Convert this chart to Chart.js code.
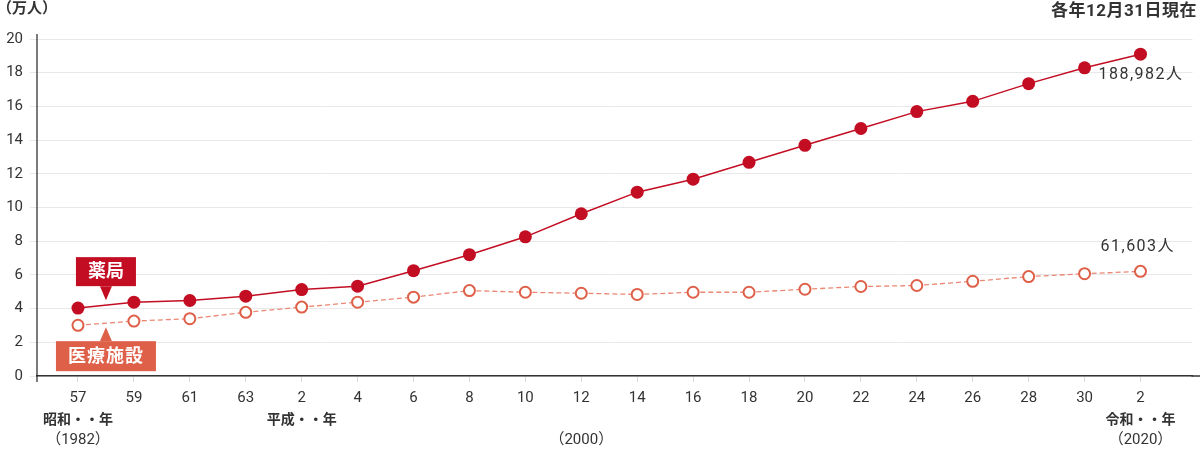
<!DOCTYPE html>
<html>
<head>
<meta charset="utf-8">
<script src="https://cdn.jsdelivr.net/npm/chart.js@4/dist/chart.umd.min.js"></script>
<style>
html,body{margin:0;padding:0;background:#fff;}
#wrap{width:1200px;height:451px;}
</style>
</head>
<body>
<div id="wrap"><canvas id="c" width="1200" height="451"></canvas></div>
<script>
const years = ['57','59','61','63','2','4','6','8','10','12','14','16','18','20','22','24','26','28','30','2'];
const pharmacy = [4.03,4.38,4.48,4.74,5.13,5.33,6.25,7.2,8.26,9.63,10.91,11.68,12.68,13.69,14.69,15.69,16.3,17.35,18.29,19.1];
const facility = [3.01,3.26,3.4,3.78,4.09,4.38,4.68,5.07,4.97,4.91,4.84,4.97,4.97,5.15,5.31,5.37,5.62,5.9,6.07,6.21];
const eraNames = ['昭和・・年','平成・・年','令和・・年'];
const eraIndex = [0,4,19];
const yearNotes = ['（1982）','（2000）','（2020）'];
const yearNoteIndex = [0,9,19];
const seriesNames = ['薬局','医療施設'];
const endLabels = ['188,982人','61,603人'];
const yTicks = [0,2,4,6,8,10,12,14,16,18,20];

const RED = '#c30d23';
const ORANGE = '#de6048';
const JP = '"Roboto","Noto Sans CJK JP",sans-serif';

function pts(arr){ return arr.map((v,i)=>({x:i,y:v})); }

const overlay = {
  id:'overlay',
  afterDraw(chart){
    const ctx = chart.ctx;
    const xs = chart.scales.x, ys = chart.scales.y;
    const ca = chart.chartArea;
    ctx.save();
    ctx.strokeStyle = '#222';
    ctx.lineWidth = 1.2;
    ctx.beginPath();
    ctx.moveTo(ca.left, ca.top - 5);
    ctx.lineTo(ca.left, ca.bottom + 6);
    ctx.stroke();
    ctx.strokeStyle = '#333';
    ctx.lineWidth = 1.5;
    ctx.beginPath();
    ctx.moveTo(ca.right - 1, ca.bottom);
    ctx.lineTo(1200, ca.bottom);
    ctx.stroke();

    ctx.fillStyle = '#333';
    ctx.font = 'bold 15px ' + JP;
    ctx.textAlign = 'left'; ctx.textBaseline = 'middle';
    ctx.fillText('（万人）', -3, 9);
    ctx.font = 'bold 17px ' + JP;
    ctx.textAlign = 'right';
    if (ctx.letterSpacing !== undefined) ctx.letterSpacing = '0.5px';
    ctx.fillText('各年12月31日現在', 1197, 12);
    if (ctx.letterSpacing !== undefined) ctx.letterSpacing = '0px';

    ctx.textAlign = 'center';
    ctx.font = 'bold 14px ' + JP;
    eraNames.forEach((t,k)=>{
      ctx.fillText(t, xs.getPixelForValue(eraIndex[k]), 420);
    });
    ctx.font = '15px ' + JP;
    yearNotes.forEach((t,k)=>{
      ctx.fillText(t, xs.getPixelForValue(yearNoteIndex[k]), 440);
    });

    const last = years.length - 1;
    ctx.font = '16px ' + JP;
    ctx.textAlign = 'left';
    if (ctx.letterSpacing !== undefined) ctx.letterSpacing = '1.5px';
    ctx.fillText(endLabels[0], xs.getPixelForValue(last) - 42, ys.getPixelForValue(pharmacy[last]) + 21);
    ctx.fillText(endLabels[1], xs.getPixelForValue(last) - 40, ys.getPixelForValue(facility[last]) - 24);
    if (ctx.letterSpacing !== undefined) ctx.letterSpacing = '0px';

    const xm = xs.getPixelForValue(0.5);
    const yRed = ys.getPixelForValue((pharmacy[0]+pharmacy[1])/2);
    const yOr = ys.getPixelForValue((facility[0]+facility[1])/2);
    ctx.font = 'bold 18px ' + JP;
    ctx.textAlign = 'center';
    let tip = yRed - 5;
    let bBot = tip - 14, bTop = bBot - 29;
    ctx.fillStyle = RED;
    ctx.fillRect(xm - 30, bTop, 60, 29);
    ctx.beginPath();
    ctx.moveTo(xm - 6, bBot); ctx.lineTo(xm + 6, bBot); ctx.lineTo(xm, tip); ctx.closePath(); ctx.fill();
    ctx.fillStyle = '#fff';
    ctx.fillText(seriesNames[0], xm, bTop + 15);
    tip = yOr + 4;
    let bT = tip + 14;
    ctx.fillStyle = ORANGE;
    ctx.fillRect(xm - 50, bT, 100, 30);
    ctx.beginPath();
    ctx.moveTo(xm - 6, bT); ctx.lineTo(xm + 6, bT); ctx.lineTo(xm, tip); ctx.closePath(); ctx.fill();
    ctx.fillStyle = '#fff';
    if (ctx.letterSpacing !== undefined) ctx.letterSpacing = '1px';
    ctx.fillText(seriesNames[1], xm, bT + 16);
    ctx.restore();
  }
};

new Chart(document.getElementById('c'), {
  type:'line',
  data:{
    datasets:[
      {
        label:seriesNames[0],
        data:pts(pharmacy),
        borderColor:RED,
        backgroundColor:RED,
        borderWidth:1.5,
        pointRadius:6.5,
        pointBorderWidth:0,
        pointBackgroundColor:RED,
        tension:0
      },
      {
        label:seriesNames[1],
        data:pts(facility),
        borderColor:'#eb8873',
        borderWidth:1.3,
        borderDash:[5,3],
        pointRadius:5.5,
        pointBorderWidth:2,
        pointBorderColor:ORANGE,
        pointBackgroundColor:'#fff',
        tension:0
      }
    ]
  },
  options:{
    responsive:false,
    animation:false,
    events:[],
    layout:{padding:{top:39,right:0,left:0,bottom:0}},
    plugins:{legend:{display:false},tooltip:{enabled:false}},
    scales:{
      x:{
        type:'linear',
        min:-0.733,
        max:19.93,
        afterBuildTicks(scale){ scale.ticks = years.map((_,i)=>({value:i})); },
        afterFit(scale){ scale.height = 75; },
        ticks:{
          autoSkip:false,
          maxRotation:0,
          color:'#333',
          padding:7,
          font:{size:15,family:JP},
          callback:(v)=>years[v]
        },
        grid:{drawOnChartArea:false,drawTicks:true,tickLength:6,color:'#d8d8d8'},
        border:{display:true,color:'#333',width:1.5}
      },
      y:{
        min:0,max:20,
        afterBuildTicks(scale){ scale.ticks = yTicks.map(v=>({value:v})); },
        afterFit(scale){ scale.width = 37; },
        ticks:{color:'#333',padding:7,font:{size:15,family:JP}},
        grid:{color:'#e8e8e8',lineWidth:1,tickLength:7},
        border:{display:false}
      }
    }
  },
  plugins:[overlay]
});
</script>
</body>
</html>
